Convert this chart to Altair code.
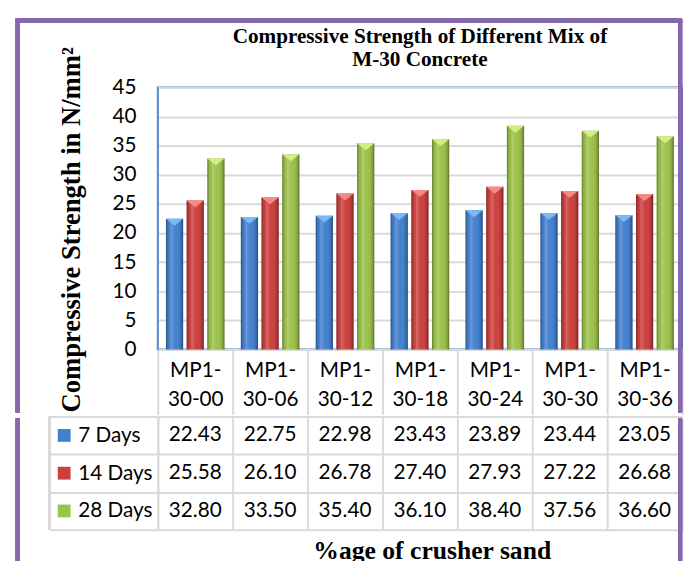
import altair as alt
import pandas as pd

categories = ["MP1-30-00", "MP1-30-06", "MP1-30-12", "MP1-30-18", "MP1-30-24", "MP1-30-30", "MP1-30-36"]
series = ["7 Days", "14 Days", "28 Days"]
days7 = [22.43, 22.75, 22.98, 23.43, 23.89, 23.44, 23.05]
days14 = [25.58, 26.10, 26.78, 27.40, 27.93, 27.22, 26.68]
days28 = [32.80, 33.50, 35.40, 36.10, 38.40, 37.56, 36.60]
y_ticks = [0, 5, 10, 15, 20, 25, 30, 35, 40, 45]

bar_colors = ["#4280cf", "#cc3f3c", "#9cc24a"]
cap_colors = ["#7ab9f6", "#f58a85", "#d4ee84"]

rows = []
for s, vals in zip(series, [days7, days14, days28]):
    for c, v in zip(categories, vals):
        rows.append({"mix": c, "series": s, "value": v, "label": f"{v:.2f}"})
df = pd.DataFrame(rows)

W = 532
H = 266
TH = 115
GRID = "#d9d9d9"
PURPLE = "#8668ad"
LFONT = "Lato"
SFONT = "Liberation Serif"

x_enc = alt.X(
    "mix:N", sort=categories,
    scale=alt.Scale(paddingInner=0, paddingOuter=0),
    axis=alt.Axis(
        title=None, labelAngle=0,
        labelExpr="[substring(datum.label, 0, 4), substring(datum.label, 4)]",
        tickBand="extent", ticks=True, tickSize=66, tickColor=GRID, tickWidth=2,
        labelPadding=-55.6, labelBaseline="top", labelLineHeight=29,
        labelFont=LFONT, labelFontSize=21, labelColor="black",
        domainColor=GRID, domainWidth=2, grid=False,
    ),
)
xoff = alt.XOffset("series:N", sort=series, scale=alt.Scale(paddingInner=0.17, paddingOuter=0.395))
y_enc = alt.Y(
    "value:Q", scale=alt.Scale(domain=[0, 45], nice=False),
    axis=alt.Axis(
        values=y_ticks, tickCount=10, title="Compressive Strength in N/mm²",
        titleFont=SFONT, titleFontSize=27, titleFontWeight="bold", titleColor="black",
        titlePadding=27, titleY=144,
        labelFont=LFONT, labelFontSize=21, labelColor="black", labelPadding=22,
        labelOverlap=False,
        ticks=False, domainColor="#6d9bd1", domainWidth=1.5,
        gridColor=GRID, gridWidth=2,
    ),
)

base = alt.Chart(df)
bars = base.mark_bar().encode(
    x=x_enc, xOffset=xoff, y=y_enc,
    color=alt.Color("series:N", sort=series, scale=alt.Scale(domain=series, range=bar_colors), legend=None),
)
shade = base.mark_bar(
    color=alt.Gradient(
        gradient="linear", x1=0, x2=1, y1=0, y2=0,
        stops=[
            alt.GradientStop(color="rgba(0,0,0,0.38)", offset=0),
            alt.GradientStop(color="rgba(0,0,0,0.05)", offset=0.12),
            alt.GradientStop(color="rgba(255,255,255,0.2)", offset=0.3),
            alt.GradientStop(color="rgba(255,255,255,0.0)", offset=0.55),
            alt.GradientStop(color="rgba(0,0,0,0.15)", offset=0.88),
            alt.GradientStop(color="rgba(0,0,0,0.42)", offset=1),
        ],
    )
).encode(x=x_enc, xOffset=xoff, y=y_enc)
caps = base.mark_point(
    shape="M-1,0L1,0L0,0.8Z", filled=True, size=303, opacity=1, strokeWidth=0
).encode(
    x=x_enc, xOffset=xoff, y=y_enc,
    fill=alt.Fill("series:N", sort=series, scale=alt.Scale(domain=series, range=cap_colors), legend=None),
)

# purple frame pieces (decoration)
frame_top = alt.Chart(df).mark_rule(color=PURPLE, strokeWidth=4).encode(
    x=alt.value(-144), x2=alt.value(532), y=alt.value(-68))
frame_l1 = alt.Chart(df).mark_rule(color=PURPLE, strokeWidth=4).encode(
    x=alt.value(-142), y=alt.value(-68), y2=alt.value(H + 64))
frame_r1 = alt.Chart(df).mark_rule(color=PURPLE, strokeWidth=4).encode(
    x=alt.value(530), y=alt.value(-68), y2=alt.value(H + 64))

top = alt.layer(bars, shade, caps, frame_top, frame_l1, frame_r1).properties(
    width=W, height=H,
    title=alt.TitleParams(
        ["Compressive Strength of Different Mix of", "M-30 Concrete"],
        font=SFONT, fontSize=21.5, fontWeight="bold", color="black",
        anchor="middle", lineHeight=24, offset=-53,
    ),
    view=alt.ViewBackground(stroke="#4f81bd", strokeWidth=2),
)

# table
tx = alt.X(
    "mix:N", sort=categories, scale=alt.Scale(paddingInner=0, paddingOuter=0),
    axis=alt.Axis(
        title="%age of crusher sand", titleFont=SFONT, titleFontSize=26, titleFontWeight="bold",
        titleColor="black", titlePadding=8, titleX=278,
        labels=False, ticks=False, domain=False,
        grid=True, tickBand="extent", gridColor=GRID, gridWidth=2,
    ),
)
ty = alt.Y(
    "series:N", sort=series, scale=alt.Scale(paddingInner=0, paddingOuter=0),
    axis=alt.Axis(
        title=None, ticks=True, tickBand="extent", tickSize=110, tickColor=GRID, tickWidth=2,
        labelAlign="left", labelPadding=-28.7, labelFont=LFONT, labelFontSize=21, labelColor="black",
        grid=True, gridColor=GRID, gridWidth=2, domainColor=GRID, domainWidth=2,
    ),
)
cells = base.mark_text(font=LFONT, fontSize=21, color="black", baseline="middle").encode(
    x=tx, y=ty, text="label:N")
swatch = alt.Chart(pd.DataFrame({"series": series})).mark_point(
    shape="square", filled=True, size=169, opacity=1, strokeWidth=0
).encode(
    x=alt.value(-95), y=alt.Y("series:N", sort=series),
    fill=alt.Fill("series:N", sort=series, scale=alt.Scale(domain=series, range=bar_colors), legend=None),
)
left_edge = alt.Chart(df).mark_rule(color=GRID, strokeWidth=2).encode(
    x=alt.value(-110), y=alt.value(0), y2=alt.value(TH))
frame_l2 = alt.Chart(df).mark_rule(color=PURPLE, strokeWidth=4).encode(
    x=alt.value(-142), y=alt.value(2), y2=alt.value(TH + 90))
frame_r2 = alt.Chart(df).mark_rule(color=PURPLE, strokeWidth=4).encode(
    x=alt.value(530), y=alt.value(2), y2=alt.value(TH + 90))

table = alt.layer(cells, swatch, left_edge, frame_l2, frame_r2).properties(width=W, height=TH)

chart = alt.vconcat(top, table, spacing=-20).resolve_scale(fill="independent").properties(
    padding={"left": 5, "top": 5, "right": 0, "bottom": 0}
).configure_view(strokeWidth=0)

chart.save("out.html", embed_options={"renderer": "svg", "actions": False})
